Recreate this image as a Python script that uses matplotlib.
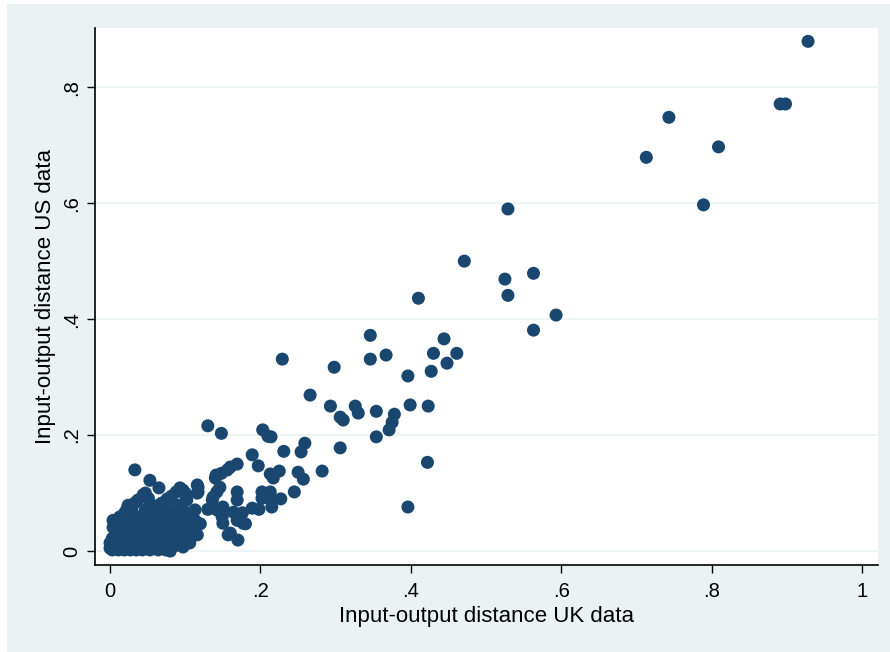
import matplotlib.pyplot as plt
from matplotlib.patches import Rectangle

# Input-output distance, UK data (x) vs US data (y)
uk = [
    0.928, 0.743, 0.891, 0.898, 0.809, 0.713, 0.789, 0.529, 0.471, 0.525,
    0.563, 0.529, 0.410, 0.593, 0.563, 0.346, 0.444, 0.430, 0.461, 0.448,
    0.427, 0.396, 0.229, 0.346, 0.367, 0.298, 0.266, 0.293, 0.326, 0.330,
    0.306, 0.310, 0.354, 0.378, 0.375, 0.371, 0.399, 0.423, 0.354, 0.306,
    0.422, 0.396, 0.282, 0.259, 0.254, 0.231, 0.250, 0.257, 0.245, 0.227,
    0.203, 0.210, 0.214, 0.189, 0.197, 0.213, 0.225, 0.217, 0.130, 0.148,
    0.169, 0.160, 0.156, 0.148, 0.141, 0.140, 0.117, 0.117, 0.097, 0.101,
    0.146, 0.142, 0.137, 0.136, 0.169, 0.169, 0.202, 0.213, 0.202, 0.213,
    0.215, 0.189, 0.198, 0.150, 0.142, 0.130, 0.113, 0.104, 0.097, 0.110,
    0.120, 0.164, 0.176, 0.169, 0.180, 0.149, 0.150, 0.157, 0.170, 0.177,
    0.116, 0.106, 0.082, 0.080, 0.097, 0.106, 0.108, 0.113, 0.160,
    0.033, 0.053, 0.065, 0.047, 0.051, 0.093, 0.100, 0.082, 0.076, 0.069,
    0.102, 0.116, 0.116, 0.033, 0.024, 0.020, 0.013, 0.004, 0.004, 0.003,
    0.000, 0.000, 0.049, 0.057, 0.066, 0.076, 0.086, 0.093, 0.031, 0.023,
    0.044, 0.037, 0.023, 0.088,
    0.003, 0.011, 0.019, 0.027, 0.035, 0.043, 0.053, 0.064, 0.074,
    0.007, 0.016, 0.029, 0.040, 0.051, 0.061, 0.072, 0.088,
    0.011, 0.021, 0.032, 0.043, 0.056, 0.066, 0.077, 0.090, 0.101,
    0.008, 0.019, 0.035, 0.048, 0.061, 0.072, 0.082, 0.096,
    0.013, 0.027, 0.040, 0.053, 0.066, 0.080,
    0.040, 0.064, 0.074,
    0.029, 0.047, 0.086, 0.097,
    0.053, 0.064, 0.090,
]
us = [
    0.879, 0.748, 0.771, 0.771, 0.697, 0.679, 0.597, 0.590, 0.500, 0.469,
    0.479, 0.441, 0.436, 0.407, 0.381, 0.372, 0.366, 0.341, 0.341, 0.324,
    0.310, 0.302, 0.331, 0.331, 0.338, 0.317, 0.269, 0.250, 0.250, 0.238,
    0.231, 0.226, 0.241, 0.236, 0.222, 0.209, 0.252, 0.250, 0.197, 0.178,
    0.153, 0.076, 0.138, 0.186, 0.171, 0.172, 0.136, 0.124, 0.102, 0.090,
    0.209, 0.198, 0.197, 0.166, 0.147, 0.133, 0.138, 0.126, 0.216, 0.203,
    0.150, 0.145, 0.140, 0.134, 0.131, 0.126, 0.110, 0.102, 0.105, 0.090,
    0.110, 0.102, 0.093, 0.088, 0.102, 0.088, 0.102, 0.102, 0.091, 0.090,
    0.076, 0.074, 0.072, 0.076, 0.071, 0.072, 0.071, 0.059, 0.053, 0.048,
    0.047, 0.067, 0.066, 0.053, 0.047, 0.059, 0.048, 0.028, 0.019, 0.048,
    0.028, 0.014, 0.007, 0.000, 0.007, 0.036, 0.066, 0.053, 0.031,
    0.140, 0.122, 0.109, 0.100, 0.091, 0.109, 0.100, 0.095, 0.090, 0.083,
    0.088, 0.114, 0.100, 0.083, 0.079, 0.067, 0.059, 0.053, 0.041, 0.022,
    0.014, 0.005, 0.053, 0.066, 0.067, 0.071, 0.059, 0.048, 0.059, 0.066,
    0.097, 0.088, 0.074, 0.102,
    0.002, 0.002, 0.002, 0.002, 0.002, 0.002, 0.002, 0.002, 0.002,
    0.010, 0.010, 0.010, 0.010, 0.010, 0.010, 0.010, 0.010,
    0.022, 0.022, 0.022, 0.022, 0.022, 0.022, 0.022, 0.022, 0.022,
    0.034, 0.034, 0.034, 0.034, 0.034, 0.034, 0.034, 0.034,
    0.047, 0.047, 0.047, 0.047, 0.047, 0.047,
    0.059, 0.059, 0.059,
    0.071, 0.071, 0.071, 0.071,
    0.079, 0.079, 0.079,
]

xticks = [0, 0.2, 0.4, 0.6, 0.8, 1.0]
xtick_labels = ['0', '.2', '.4', '.6', '.8', '1']
yticks = [0, 0.2, 0.4, 0.6, 0.8]
ytick_labels = ['0', '.2', '.4', '.6', '.8']

navy = '#1a476f'
bg = '#eaf2f3'

plt.rcParams['font.family'] = ['Liberation Sans', 'DejaVu Sans']

fig = plt.figure(figsize=(8.9, 6.52), dpi=100)
fig.patch.set_facecolor('white')
# light graph region behind the white plot region
fig.patches.append(Rectangle((7 / 890, 0), 1, 648 / 652, transform=fig.transFigure,
                             facecolor=bg, edgecolor='none', zorder=-5))

ax = fig.add_axes([95 / 890, 87 / 652, 783 / 890, 537 / 652])
ax.set_zorder(1)
ax.set_facecolor('white')

ax.scatter(uk, us, s=88, color=navy, edgecolors='none', zorder=3)

ax.set_xlim(-0.02, 1.021)
ax.set_ylim(-0.024, 0.902)
ax.set_xticks(xticks)
ax.set_xticklabels(xtick_labels)
ax.set_yticks(yticks)
ax.set_yticklabels(ytick_labels, rotation=90, va='center')

ax.grid(axis='y', color=bg, linewidth=1.2, zorder=1)
ax.set_axisbelow(True)

for side in ['top', 'right']:
    ax.spines[side].set_visible(False)
for side in ['left', 'bottom']:
    ax.spines[side].set_linewidth(1.2)
    ax.spines[side].set_color('black')

ax.tick_params(axis='both', length=6, width=1, labelsize=14.5, colors='black')
ax.tick_params(axis='x', pad=6)
ax.tick_params(axis='y', pad=4)

ax.set_xlabel('Input-output distance UK data', fontsize=16)
ax.set_ylabel('Input-output distance US data', fontsize=16)
ax.xaxis.set_label_coords(0.5, -0.076)
ax.yaxis.set_label_coords(-0.050, 0.5)

fig.savefig('out.png', dpi=100)
